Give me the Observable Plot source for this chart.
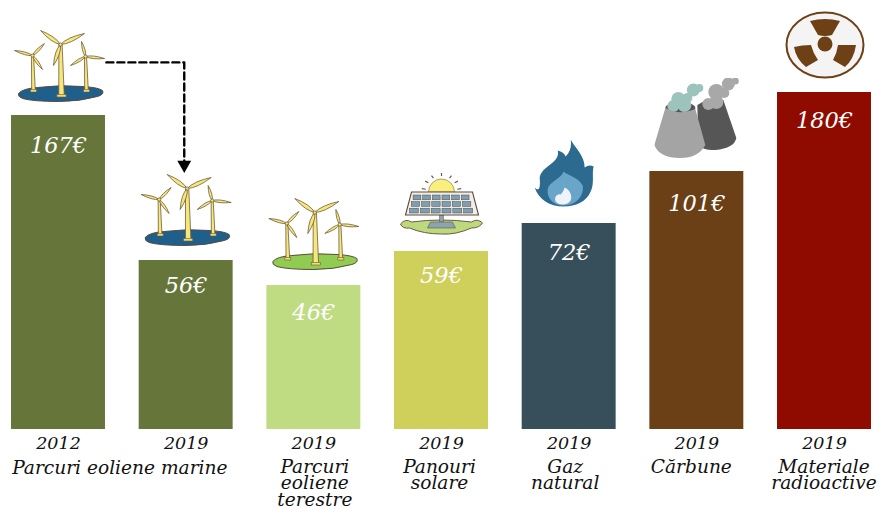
<!DOCTYPE html>
<html>
<head>
<meta charset="utf-8">
<script src="https://cdn.jsdelivr.net/npm/d3@7"></script>
<script src="https://cdn.jsdelivr.net/npm/@observablehq/plot@0.6"></script>
<style>html,body{margin:0;padding:0;background:#fff}svg{display:block}</style>
</head>
<body>
<div id="chart"></div>
<script>
// Data
const ids = ["offshore2012","offshore2019","onshore","solar","gas","coal","nuclear"];
const prices = [167, 56, 46, 59, 72, 101, 180];
const years = ["2012","2019","2019","2019","2019","2019","2019"];
const names = ["", "", "Parcuri\neoliene\nterestre", "Panouri\nsolare", "Gaz\nnatural", "Cărbune", "Materiale\nradioactive"];
const sharedName = "Parcuri eoliene marine";
const barColors = ["#66763a","#66763a","#bfdc82","#cfcf5b","#374f5a","#6b4016","#8f0b00"];

const labelDrop = new Map([[167, 30], [56, 25], [46, 27], [59, 24], [72, 29], [101, 32], [180, 28]]);
const nameShift = new Map([["onshore", 1], ["solar", -2], ["gas", -4], ["coal", -5.5], ["nuclear", -0.5]]);
const rows = ids.map((id, i) => ({i, id, price: prices[i], year: years[i], name: names[i]}));

// Icon artwork
const svgUri = (w, h, body) => "data:image/svg+xml;utf8," + encodeURIComponent(
  `<svg xmlns="http://www.w3.org/2000/svg" width="${w}" height="${h}" viewBox="0 0 ${w} ${h}">${body}</svg>`);

function blade(hx, hy, tx, ty, b) {
  const dx = tx - hx, dy = ty - hy, L = Math.hypot(dx, dy), nx = -dy / L * b, ny = dx / L * b;
  const mx = hx + dx * .35, my = hy + dy * .35;
  return `<path d="M${hx} ${hy}Q${mx + nx} ${my + ny} ${tx} ${ty}Q${mx - nx} ${my - ny} ${hx} ${hy}Z" fill="#f6e77c" stroke="#6f5c3a" stroke-width="0.8"/>`;
}
function turbine(hx, hy, bx, by, tw, blades, b) {
  return `<path d="M${hx - tw * .35} ${hy}L${hx + tw * .35} ${hy}L${bx + tw * .6} ${by}L${bx - tw * .6} ${by}Z" fill="#f6e77c" stroke="#6f5c3a" stroke-width="0.8"/>
  <rect x="${bx - tw}" y="${by - 1}" width="${tw * 2}" height="2.5" fill="#f0dc70" stroke="#6f5c3a" stroke-width="0.6"/>` +
  blades.map(t => blade(hx, hy, t[0], t[1], b)).join("") +
  `<circle cx="${hx}" cy="${hy}" r="1.6" fill="#f6e77c" stroke="#6f5c3a" stroke-width="0.7"/>`;
}
const farm = (ground) => svgUri(92, 74,
  `<path d="M5 65Q9 60 24 59Q46 56 70 58Q85 59 89 62Q91 66 84 68Q66 73 46 73Q20 73 9 70Q4 68 5 65Z" fill="${ground}" stroke="#5b4a3c" stroke-width="1"/>` +
  turbine(19, 27, 20, 62, 3, [[1, 22], [31, 15], [29, 41]], 2.6) +
  turbine(72, 28, 73, 62, 3, [[68, 13], [91, 30], [57, 37]], 2.6) +
  turbine(47, 16, 48, 67, 4.6, [[27, 2], [71, 5], [40, 37]], 3.8));

const cells = [];
for (let r = 0; r < 3; r++) for (let c = 0; c < 6; c++) {
  const top = 23 + r * 6.6, shift = (2 - r) * 1.8, w = 61 - (2 - r) * 3.6;
  cells.push(`<rect x="${10 + shift + c * (w + 4) / 6}" y="${top}" width="${w / 6 - 1.2}" height="4.8" fill="#7f9fb0" stroke="#4b4b4b" stroke-width="0.5"/>`);
}
const rays = [-80, -55, -30, 0, 30, 55, 80].map(a => {
  const s = Math.sin(a * Math.PI / 180), c = Math.cos(a * Math.PI / 180);
  return `<line x1="${42 + s * 16}" y1="${20 - c * 16}" x2="${42 + s * 20}" y2="${20 - c * 19}" stroke="#6d5a45" stroke-width="1.2"/>`;
}).join("");
const solarIcon = svgUri(84, 63,
  rays +
  `<path d="M29 20A13 13 0 0 1 55 20Z" fill="#f8ef7f" stroke="#7a6a4a" stroke-width="0.6"/>
  <path d="M1 52Q6 46 12 50Q42 46 72 50Q78 46 83 51Q80 56 72 56Q56 63 42 62Q24 62 10 56Q3 57 1 52Z" fill="#bcd97c" stroke="#6f5a45" stroke-width="1"/>
  <path d="M40 43H44V50H40Z" fill="#8fa3ad" stroke="#555" stroke-width="0.5"/>
  <path d="M31 50H53L56 56H28Z" fill="#8fa3ad" stroke="#555" stroke-width="0.6"/>
  <path d="M12 20H73L79 43H6Z" fill="#f3efe7" stroke="#5b4a3c" stroke-width="1.1"/>` + cells.join(""));

const flameIcon = svgUri(60, 68,
  `<path d="M36 0C40 8 50 16 50 28C53 26 55 25 59 27C57 34 60 44 56 52C52 62 41 67 29 67C15 67 4 60 0 48C4 52 6 50 5 38C6 30 16 26 21 20C23 17 24 14 23 11C27 12 30 14 31 17C36 12 37 6 36 0Z" fill="#2d6a8f"/>
  <path d="M29 32C33 36 44 38 48 46C50 54 43 66 29 66C18 66 12 58 13 50C14 42 26 40 29 32Z" fill="#69a4c9"/>
  <path d="M30 48C35 50 38 56 36 61C33 66 24 66 21 62C19 57 23 54 26 55C28 53 29 51 30 48Z" fill="#eff3fb"/>`);

const grey = "#a8a8a8", teal = "#9cc4bc";
const puff = (x, y, r, c) => `<circle cx="${x}" cy="${y}" r="${r}" fill="${c}"/>`;
const coolingIcon = svgUri(86, 81,
  puff(74, 6, 6.5, grey) + puff(81, 3, 3.5, grey) + puff(70, 15, 5, grey) +
  `<path d="M43 27Q55 19 69 22L82 60Q80 70 61 72Q46 72 44 66Z" fill="#565656"/>` +
  puff(62, 14, 8, grey) + puff(54, 26, 6, grey) + puff(62, 24, 7, grey) +
  `<ellipse cx="26" cy="30" rx="15" ry="6" fill="#555"/>` +
  puff(24, 21, 7, teal) + puff(19, 28, 6, teal) + puff(30, 27, 7, teal) + puff(33, 20, 5, teal) + puff(39, 12, 6.5, teal) + puff(45, 10, 4, teal) +
  `<path d="M11 30Q26 38 41 31L51 67Q44 80 26 80Q5 80 0 67Z" fill="#a4a4a4"/>`);

const nc = "#6d4015";
const nuclearIcon = svgUri(80, 68,
  `<ellipse cx="40" cy="34" rx="38.5" ry="32.5" fill="#f4f4f4" stroke="${nc}" stroke-width="2"/>
  <circle cx="40" cy="33" r="7.5" fill="${nc}"/>
  <path d="M25 10Q40 6 55 10L47 24Q40 26 33 24Z" fill="${nc}"/>
  <path d="M9 36Q17 34 26 34Q28 42 33 49L21 56Q11 48 9 36Z" fill="${nc}"/>
  <path d="M53 34Q62 34 71 34Q69 48 60 56L48 49Q52 42 53 34Z" fill="${nc}"/>`);

const icons = [
  {i: 0, price: 167, src: farm("#1f5f8b"), w: 92, h: 74, dx: 1, dy: -50},
  {i: 1, price: 56, src: farm("#1f5f8b"), w: 92, h: 74, dx: 0, dy: -51},
  {i: 2, price: 46, src: farm("#90cb52"), w: 92, h: 74, dx: 0, dy: -52},
  {i: 3, price: 59, src: solarIcon, w: 84, h: 63, dx: 0, dy: -48},
  {i: 4, price: 72, src: flameIcon, w: 60, h: 68, dx: -4.5, dy: -50},
  {i: 5, price: 101, src: coolingIcon, w: 86, h: 81, dx: 0.5, dy: -53},
  {i: 6, price: 180, src: nuclearIcon, w: 80, h: 68, dx: 0.5, dy: -47.5}
];

// Dashed connector between the two offshore wind bars, in price units
const connector = [{x: 0.375, y: 197}, {x: 0.985, y: 197}, {x: 0.985, y: 110}];
const half = 0.368;
const serif = "DejaVu Serif";
const ink = "#111";

// The published bars are not drawn to a single linear scale: piecewise mapping
const barScale = d3.scaleLinear()
  .domain([0, 46, 56, 59, 72, 101, 167, 180])
  .range([0, 144, 169, 178, 206, 258, 314, 337]);

const nameMarks = rows.filter(d => d.name).map(d =>
  Plot.text([d], {x: "i", y: 0, text: "name", dx: nameShift.get(d.id), dy: 31, lineAnchor: "top", lineHeight: 0.91, fill: ink,
    fontFamily: serif, fontStyle: "italic", fontSize: 18.6, textAnchor: "middle"}));
const priceMarks = rows.map(d =>
  Plot.text([d], {x: "i", y: "price", text: r => r.price + "€", dy: labelDrop.get(d.price), fill: "#fff",
    fontFamily: serif, fontStyle: "italic", fontSize: 22.5, textAnchor: "middle"}));

const chart = Plot.plot({
  width: 879, height: 509,
  marginTop: 0, marginRight: 0, marginBottom: 0, marginLeft: 0,
  axis: null,
  style: {background: "#fff"},
  x: {domain: [0, 6], range: [58, 824]},
  y: {transform: v => barScale(v), domain: [0, 429], range: [429, 0]},
  color: {type: "ordinal", domain: ids, range: barColors},
  marks: [
    Plot.rect(rows, {x1: d => d.i - half, x2: d => d.i + half, y1: 0, y2: "price", fill: "id"}),
    ...priceMarks,
    Plot.text(rows, {x: "i", y: 0, text: "year", dy: 14, fill: ink,
      fontFamily: serif, fontStyle: "italic", fontSize: 17.5, textAnchor: "middle"}),
    ...nameMarks,
    Plot.text([sharedName], {x: 0.5, y: 0, text: d => d, dx: -2.5, dy: 31, lineAnchor: "top", fill: ink,
      fontFamily: serif, fontStyle: "italic", fontSize: 18.6, textAnchor: "middle"}),
    ...icons.map(d => Plot.image([d], {x: "i", y: "price", src: "src", width: d.w, height: d.h, dx: d.dx, dy: d.dy})),
    Plot.line(connector, {x: "x", y: "y", stroke: "#000", strokeWidth: 2.4, strokeDasharray: "7 4", curve: "linear"}),
    Plot.dot(connector.slice(-1), {x: "x", y: "y", symbol: "triangle", r: 4.2, rotate: 180, fill: "#000", stroke: "#000", dy: 1})
  ]
});
document.getElementById("chart").append(chart);
</script>
</body>
</html>
